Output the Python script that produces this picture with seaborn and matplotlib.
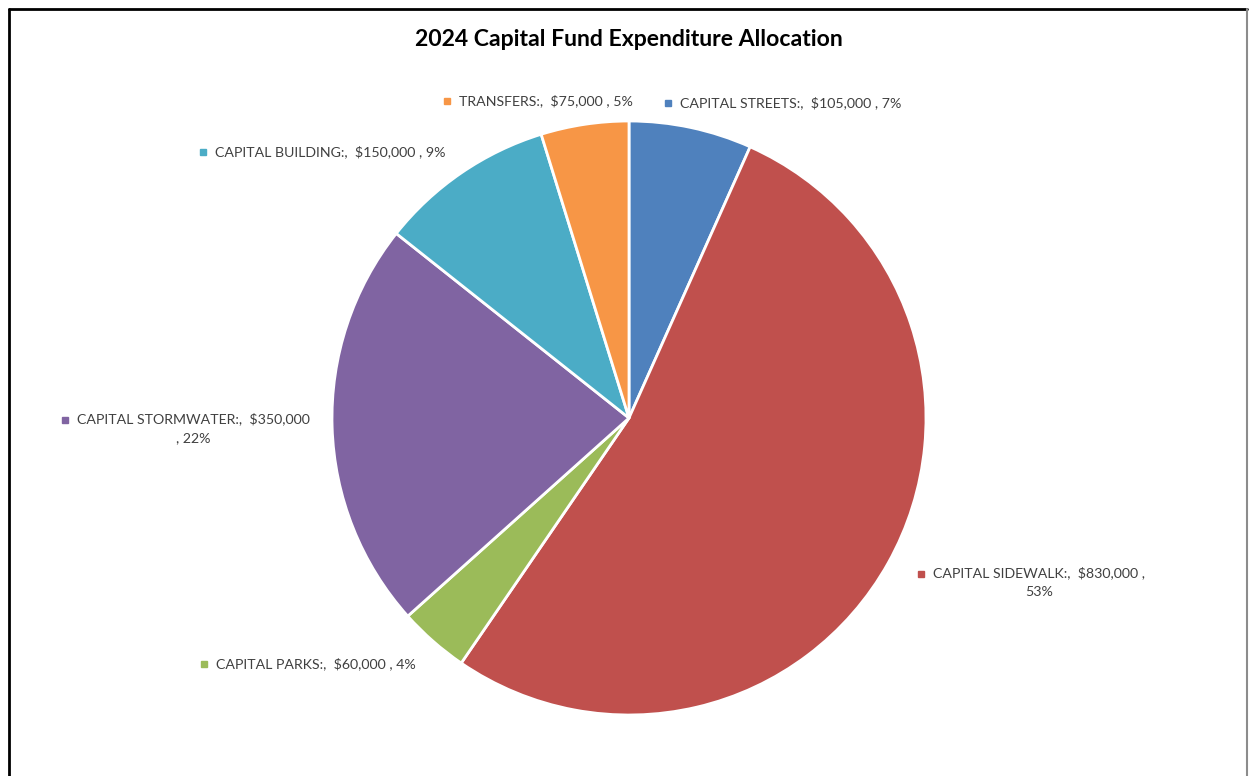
import matplotlib
matplotlib.use("Agg")
import matplotlib.pyplot as plt
import seaborn as sns

# data
categories = ["CAPITAL STREETS", "CAPITAL SIDEWALK", "CAPITAL PARKS",
              "CAPITAL STORMWATER", "CAPITAL BUILDING", "TRANSFERS"]
amounts = [105000, 830000, 60000, 350000, 150000, 75000]
pct_labels = ["7%", "53%", "4%", "22%", "9%", "5%"]
title = "2024 Capital Fund Expenditure Allocation"

colors = sns.color_palette(["#4F81BD", "#C0504D", "#9BBB59",
                            "#8064A2", "#4BACC6", "#F79646"])

sns.set_theme(style="white")
plt.rcParams["font.family"] = ["Lato", "DejaVu Sans"]

W, H = 1249, 776
fig = plt.figure(figsize=(W / 100, H / 100), dpi=100)
ax = fig.add_axes([0, 0, 1, 1])

def fy(py):
    return H - py

# pie in pixel units
ax.pie(amounts, colors=colors, startangle=90, counterclock=False,
       center=(629, fy(418)), radius=297, frame=True,
       wedgeprops=dict(edgecolor="white", linewidth=2))
ax.set_xlim(0, W)
ax.set_ylim(0, H)
ax.axis("off")

# label placement: (text left x, first line y, wrap)
label_pos = [(680, 103, False), (933, 574, True), (216, 664, False),
             (77, 420, True), (215, 152, False), (459, 101, False)]

FS = 10.2
for name, amt, pct, col, (lx, ly, wrap) in zip(categories, amounts, pct_labels, colors, label_pos):
    if wrap:
        if name == "CAPITAL SIDEWALK":
            txt = f"{name}:,  ${amt:,} ,\n{pct}"
        else:
            txt = f"{name}:,  ${amt:,}\n, {pct}"
        ax.text(lx, fy(ly - 8), txt, ha="left", va="top", multialignment="center",
                fontsize=FS, color="#404040", linespacing=1.75)
    else:
        ax.text(lx, fy(ly), f"{name}:,  ${amt:,} , {pct}", ha="left", va="center",
                fontsize=FS, color="#404040")
    ax.plot(lx - 12, fy(ly), marker="s", markersize=4, color=col, clip_on=False)

ax.text(629, fy(40), title, ha="center", va="center", fontsize=16.6,
        fontweight="bold", color="black")

# chart frame
ax.plot([9, 9], [fy(9), 0], color="black", lw=2, clip_on=False)
ax.plot([9, 1247], [fy(9), fy(9)], color="black", lw=2, clip_on=False)
ax.plot([1247, 1247], [fy(9), 0], color="#8c8c8c", lw=1.5, clip_on=False)

fig.savefig("out.png", dpi=100, facecolor="white")
